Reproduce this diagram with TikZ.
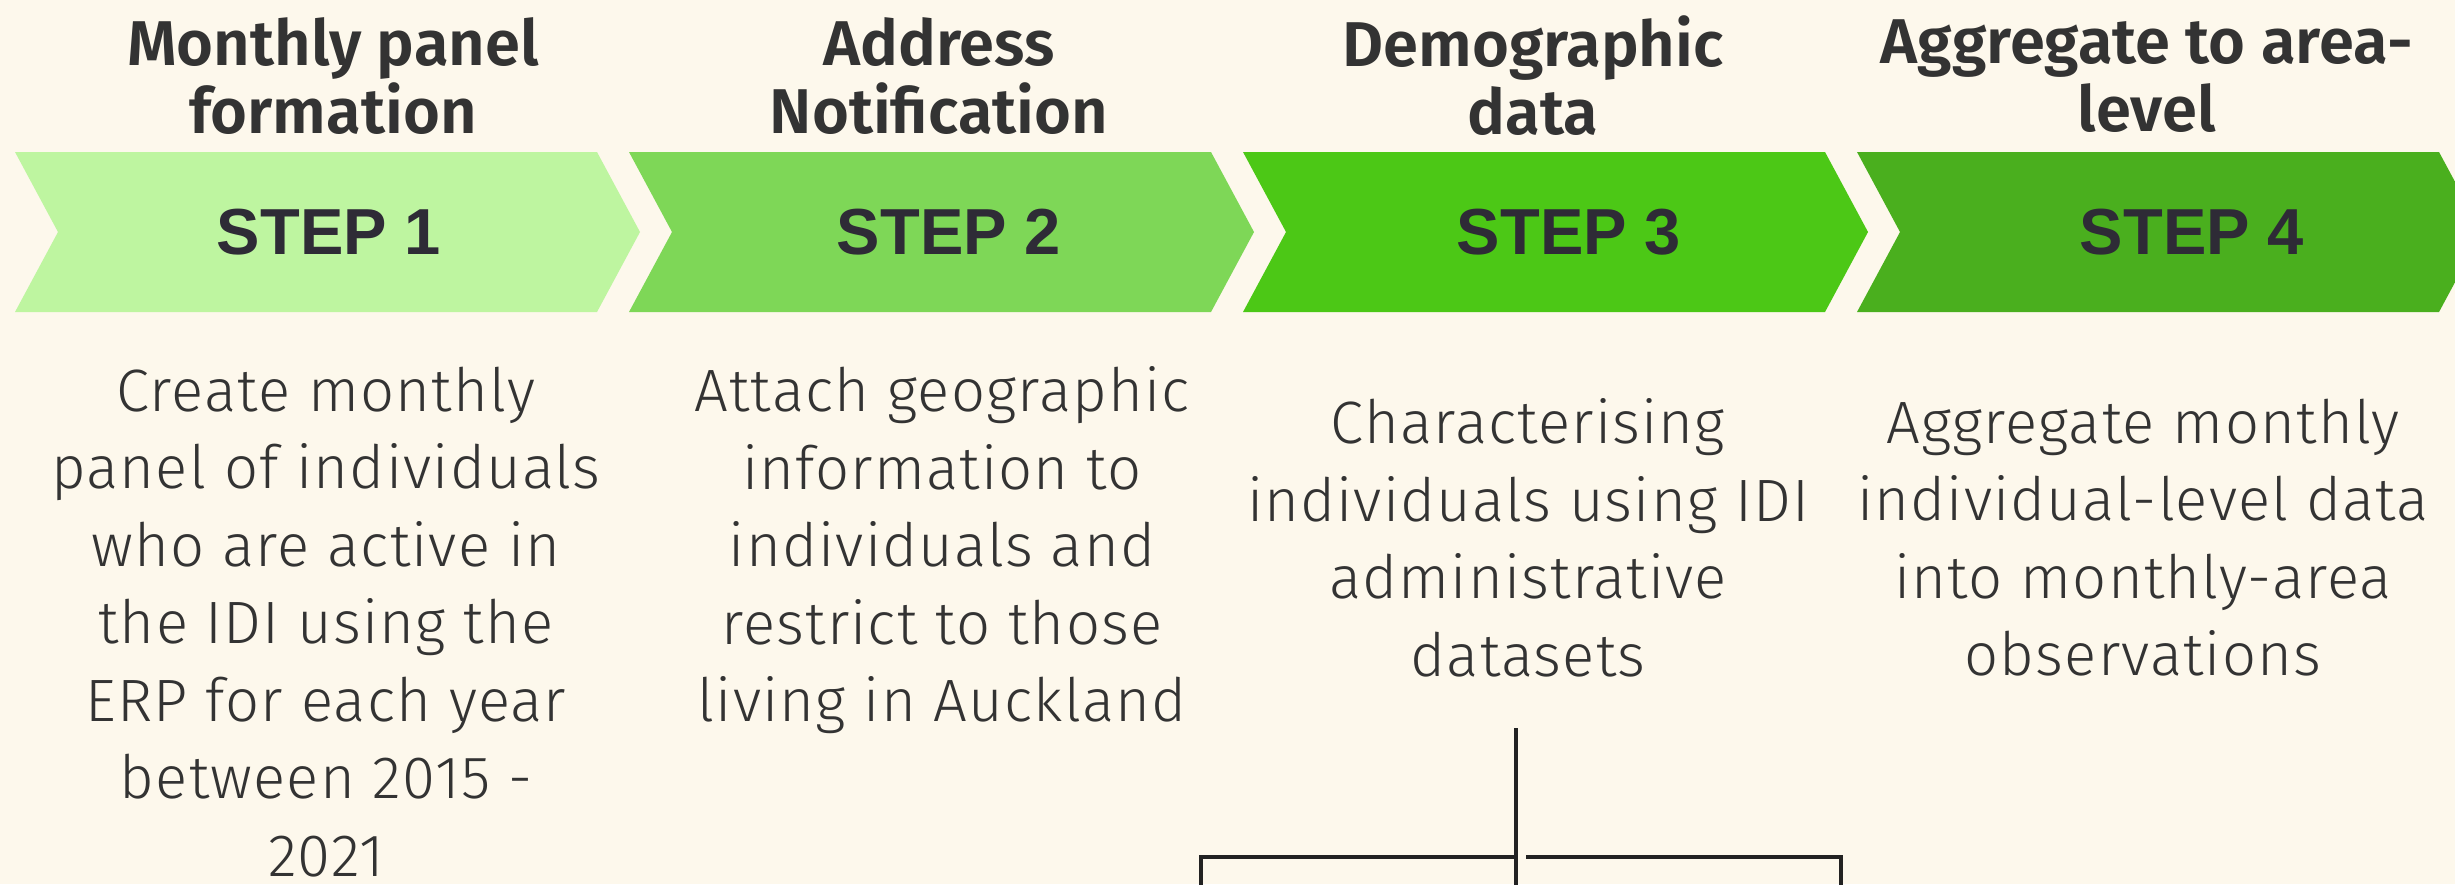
\documentclass[tikz,border=0pt]{standalone}
\usepackage{fontspec}
\setmainfont{Fira Sans}
\newfontfamily\headfont{Fira Sans}[UprightFont={* SemiBold}]
\newfontfamily\stepfont{Liberation Sans}
\newfontfamily\bodyfont{Fira Sans}[UprightFont={* Light}, LetterSpace=2]

\definecolor{bg}{HTML}{FDF8EC}
\definecolor{chA}{HTML}{BEF5A0}
\definecolor{chB}{HTML}{7ED757}
\definecolor{chC}{HTML}{4CC816}
\definecolor{chD}{HTML}{4AAF1E}
\definecolor{ink}{HTML}{333333}
\definecolor{stepink}{HTML}{2E2B36}
\definecolor{linkc}{HTML}{222222}

\begin{document}
\begin{tikzpicture}[x=0.01cm, y=-0.01cm,
  headtxt/.style={font=\headfont\fontsize{18}{19.35}\selectfont, text=ink, align=center, inner sep=0pt},
  steptxt/.style={font=\stepfont\bfseries\fontsize{18.5}{20}\selectfont, text=stepink, inner sep=0pt},
  bodytxt/.style={font=\bodyfont\fontsize{17}{22.05}\selectfont, text=ink, align=center, inner sep=0pt, anchor=north},
  link/.style={draw=linkc, line width=1.14pt}]

\useasboundingbox (0,0) rectangle (2455,884);
\fill[bg] (0,0) rectangle (2455,884);
\clip (0,0) rectangle (2455,884);

% chevron band
\foreach \i/\col in {0/chA,1/chB,2/chC,3/chD}
  \fill[\col] ({15+614*\i},152) -- ++(582,0) -- ++(43,80) -- ++(-43,80)
              -- ++(-582,0) -- ++(43,-80) -- cycle;

% stage titles
\node[headtxt] (h1) at (333,76)  {Monthly panel\\formation};
\node[headtxt] (h2) at (939,76)  {Address\\Notification};
\node[headtxt] (h3) at (1533,76) {Demographic\\data};
\node[headtxt] (h4) at (2147,76) {Aggregate to area-\\level};

% step labels
\node[steptxt] (s1) at (329,232)  {STEP 1};
\node[steptxt] (s2) at (949,232)  {STEP 2};
\node[steptxt] (s3) at (1569,232) {STEP 3};
\node[steptxt] (s4) at (2192,232) {STEP 4};

% descriptions
\node[bodytxt] (b1) at (326,366) {Create monthly\\panel of individuals\\who are active in\\the IDI using the\\ERP for each year\\between 2015 -\\2021};
\node[bodytxt] (b2) at (942,366) {Attach geographic\\information to\\individuals and\\restrict to those\\living in Auckland};
\node[bodytxt] (b3) at (1528,398) {Characterising\\individuals using IDI\\administrative\\datasets};
\node[bodytxt] (b4) at (2143,398) {Aggregate monthly\\individual-level data\\into monthly-area\\observations};

% branching connector below step 3
\coordinate (stemtop) at (1516,728);
\coordinate (fork)    at (1516,857);
\coordinate (stembot) at (1516,890);
\coordinate (lcorner) at (1201,857);
\coordinate (lend)    at (1201,890);
\coordinate (rstart)  at (1526,857);
\coordinate (rcorner) at (1841,857);
\coordinate (rend)    at (1841,890);
\draw[link] (stemtop) -- (stembot);
\draw[link] (fork) -- (lcorner) -- (lend);
\draw[link] (rstart) -- (rcorner) -- (rend);
\end{tikzpicture}
\end{document}
